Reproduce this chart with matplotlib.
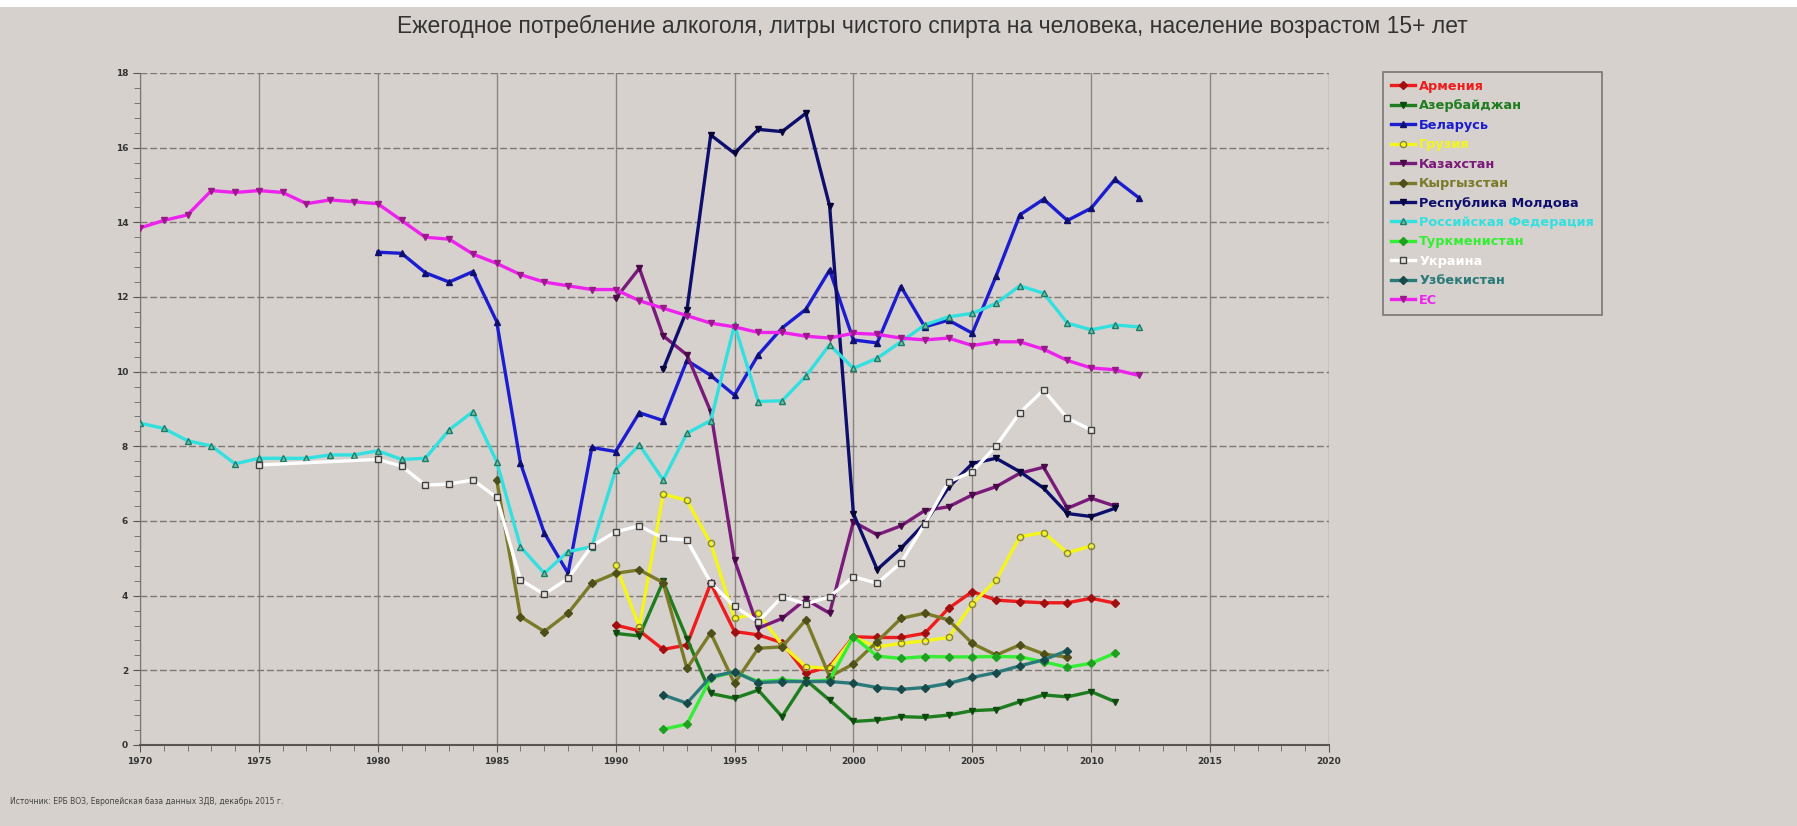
import matplotlib
matplotlib.use("Agg")
import matplotlib.pyplot as plt
from matplotlib.ticker import MultipleLocator
from matplotlib.patches import Rectangle

# ---------------- data ----------------
title = "Ежегодное потребление алкоголя, литры чистого спирта на человека, население возрастом 15+ лет"
source = "Источник: ЕРБ ВОЗ, Европейская база данных ЗДВ, декабрь 2015 г."

armenia_years = list(range(1990, 2012))
armenia = [3.21, 3.06, 2.56, 2.68, 4.33, 3.04, 2.95, 2.74, 1.92, 2.10, 2.90,
           2.88, 2.88, 2.99, 3.66, 4.11, 3.88, 3.84, 3.81, 3.81, 3.93, 3.80]

azerbaijan_years = list(range(1990, 2012))
azerbaijan = [2.99, 2.92, 4.38, 2.85, 1.38, 1.25, 1.47, 0.76, 1.74, 1.20, 0.63,
              0.67, 0.76, 0.74, 0.80, 0.92, 0.95, 1.16, 1.34, 1.29, 1.43, 1.16]

belarus_years = list(range(1980, 2013))
belarus = [13.20, 13.17, 12.65, 12.40, 12.68, 11.34, 7.55, 5.68, 4.60, 7.97, 7.86,
           8.90, 8.69, 10.30, 9.90, 9.37, 10.45, 11.17, 11.67, 12.72, 10.85,
           10.77, 12.28, 11.20, 11.38, 11.03, 12.56, 14.20, 14.62, 14.05, 14.38,
           15.15, 14.66]

georgia_years = list(range(1990, 2011))
georgia = [4.82, 3.17, 6.72, 6.55, 5.40, 3.39, 3.53, 2.68, 2.10, 2.05, 2.88,
           2.63, 2.72, 2.79, 2.88, 3.78, 4.42, 5.58, 5.69, 5.15, 5.33]

kazakhstan_years = list(range(1990, 2012))
kazakhstan = [11.96, 12.77, 10.96, 10.45, 8.93, 4.96, 3.13, 3.39, 3.90, 3.53, 5.98,
              5.63, 5.87, 6.28, 6.38, 6.70, 6.92, 7.28, 7.44, 6.34, 6.61, 6.40]

kyrgyzstan_years = list(range(1985, 2010))
kyrgyzstan = [7.10, 3.44, 3.04, 3.53, 4.33, 4.60, 4.69, 4.35, 2.05, 3.00, 1.65,
              2.59, 2.63, 3.35, 1.83, 2.17, 2.77, 3.39, 3.53, 3.35, 2.72, 2.41,
              2.68, 2.44, 2.35]

moldova_years = list(range(1992, 2012))
moldova = [10.06, 11.65, 16.34, 15.85, 16.49, 16.43, 16.92, 14.44, 6.20, 4.70,
           5.27, 5.94, 6.90, 7.54, 7.68, 7.32, 6.88, 6.20, 6.12, 6.34]

russia_years = list(range(1970, 2013))
russia = [8.62, 8.48, 8.15, 8.01, 7.53, 7.68, 7.68, 7.68, 7.77, 7.77, 7.88,
          7.65, 7.68, 8.44, 8.93, 7.59, 5.31, 4.60, 5.18, 5.31, 7.37,
          8.04, 7.10, 8.35, 8.69, 11.25, 9.20, 9.22, 9.88, 10.72, 10.09,
          10.36, 10.80, 11.25, 11.47, 11.56, 11.83, 12.30, 12.10, 11.30, 11.12,
          11.25, 11.20]

turkmenistan_years = list(range(1992, 2012))
turkmenistan = [0.42, 0.56, 1.79, 1.96, 1.70, 1.74, 1.70, 1.74, 2.90, 2.38,
                2.32, 2.37, 2.36, 2.36, 2.37, 2.36, 2.23, 2.08, 2.19, 2.46]

ukraine_years = [1975, 1980, 1981, 1982, 1983, 1984, 1985, 1986, 1987, 1988,
                 1989, 1990, 1991, 1992, 1993, 1994, 1995, 1996, 1997, 1998,
                 1999, 2000, 2001, 2002, 2003, 2004, 2005, 2006, 2007, 2008,
                 2009, 2010]
ukraine = [7.50, 7.65, 7.47, 6.96, 6.99, 7.10, 6.63, 4.42, 4.04, 4.46,
           5.33, 5.71, 5.87, 5.54, 5.49, 4.35, 3.71, 3.30, 3.97, 3.78,
           3.97, 4.51, 4.33, 4.88, 5.92, 7.05, 7.32, 8.01, 8.90, 9.51,
           8.75, 8.44]

uzbekistan_years = list(range(1992, 2010))
uzbekistan = [1.34, 1.12, 1.83, 1.96, 1.67, 1.70, 1.70, 1.70, 1.65, 1.54,
              1.49, 1.54, 1.65, 1.81, 1.94, 2.12, 2.28, 2.53]

eu_years = list(range(1970, 2013))
eu = [13.85, 14.05, 14.20, 14.85, 14.80, 14.85, 14.80, 14.50, 14.60, 14.55, 14.50,
      14.05, 13.60, 13.55, 13.15, 12.90, 12.60, 12.40, 12.30, 12.20, 12.20,
      11.90, 11.70, 11.50, 11.30, 11.20, 11.05, 11.05, 10.95, 10.90, 11.03,
      11.00, 10.90, 10.85, 10.90, 10.70, 10.80, 10.80, 10.60, 10.30, 10.10,
      10.05, 9.90]

series = [
    ("Армения", armenia_years, armenia),
    ("Азербайджан", azerbaijan_years, azerbaijan),
    ("Беларусь", belarus_years, belarus),
    ("Грузия", georgia_years, georgia),
    ("Казахстан", kazakhstan_years, kazakhstan),
    ("Кыргызстан", kyrgyzstan_years, kyrgyzstan),
    ("Республика Молдова", moldova_years, moldova),
    ("Российская Федерация", russia_years, russia),
    ("Туркменистан", turkmenistan_years, turkmenistan),
    ("Украина", ukraine_years, ukraine),
    ("Узбекистан", uzbekistan_years, uzbekistan),
    ("ЕС", eu_years, eu),
]

# ---------------- styles ----------------
styles = {
    "Армения":              dict(color="#ee1c1c", marker="D", mfc="#a01010", mec="#a01010"),
    "Азербайджан":          dict(color="#1e7d1e", marker="v", mfc="#104a10", mec="#104a10"),
    "Беларусь":             dict(color="#1c1cd0", marker="^", mfc="#101070", mec="#101070"),
    "Грузия":               dict(color="#f5f51c", marker="o", mfc="none", mec="#8a8a20"),
    "Казахстан":            dict(color="#7a1a7a", marker="v", mfc="#4a0a4a", mec="#4a0a4a"),
    "Кыргызстан":           dict(color="#7a7a28", marker="D", mfc="#4f4f1a", mec="#4f4f1a"),
    "Республика Молдова":   dict(color="#0e0e6e", marker="v", mfc="#05053a", mec="#05053a"),
    "Российская Федерация": dict(color="#33e0e0", marker="^", mfc="#6ec0a0", mec="#1e7a6a"),
    "Туркменистан":         dict(color="#33ee33", marker="D", mfc="#20a020", mec="#20a020"),
    "Украина":              dict(color="#ffffff", marker="s", mfc="#e8e4e0", mec="#404040"),
    "Узбекистан":           dict(color="#2a7a7a", marker="D", mfc="#184a4a", mec="#184a4a"),
    "ЕС":                   dict(color="#ee22ee", marker="v", mfc="#9a1a8a", mec="#9a1a8a"),
}

BG = "#d6d1cc"
W, H = 1797, 826
fig = plt.figure(figsize=(W / 100, H / 100), dpi=100, facecolor=BG)
fig.patches.append(Rectangle((0, 1 - 7 / H), 1, 7 / H, transform=fig.transFigure,
                             facecolor="white", edgecolor="none", zorder=0))

ax = fig.add_axes([140 / W, 1 - 745 / H, (1329 - 140) / W, (745 - 73) / H])
ax.set_facecolor(BG)

for name, yrs, vals in series:
    st = styles[name]
    ms = 4.5 if st["marker"] in ("s", "o") else 4
    ax.plot(yrs, vals, color=st["color"], lw=2.4, marker=st["marker"],
            markersize=ms, markerfacecolor=st["mfc"], markeredgecolor=st["mec"],
            markeredgewidth=1, label=name, zorder=3)

ax.set_xlim(1970, 2020)
ax.set_ylim(0, 18)
ax.xaxis.set_major_locator(MultipleLocator(5))
ax.xaxis.set_minor_locator(MultipleLocator(1))
ax.yaxis.set_major_locator(MultipleLocator(2))
ax.yaxis.set_minor_locator(MultipleLocator(0.4))

ax.grid(True, which="major", axis="x", color="#8a8580", lw=1, ls="-", zorder=1)
ax.grid(True, which="major", axis="y", color="#7d7873", lw=1, ls=(0, (5, 2)), zorder=1)

for s in ("top", "right"):
    ax.spines[s].set_visible(False)
ax.spines["left"].set_color("#7a7570")
ax.spines["bottom"].set_color("#5a5550")
ax.spines["bottom"].set_linewidth(1.5)

ax.tick_params(axis="both", which="major", length=5, color="#555", labelsize=6.5,
               labelcolor="#333")
ax.tick_params(axis="both", which="minor", length=4, color="#666")
for lbl in ax.get_xticklabels() + ax.get_yticklabels():
    lbl.set_fontweight("bold")

fig.text(0.519, 1 - 26 / H, title, ha="center", va="center",
         fontsize=16.5, family="Liberation Sans", color="#333333")

fig.text(10 / W, 1 - 802 / H, source, ha="left", va="center",
         fontsize=5.5, color="#444444")

leg = fig.legend(loc="upper left", bbox_to_anchor=(1383 / W, 1 - 72 / H),
                 frameon=True, fancybox=False, facecolor=BG, edgecolor="#606060",
                 prop=dict(size=9.3, weight="bold"), labelspacing=0.5,
                 handlelength=1.9, handletextpad=0.3, borderpad=0.6,
                 borderaxespad=0)
leg.get_frame().set_linewidth(1.2)
for txt, (name, _, _) in zip(leg.get_texts(), series):
    txt.set_color(styles[name]["color"])

fig.savefig("out.png", dpi=100, facecolor=BG)
